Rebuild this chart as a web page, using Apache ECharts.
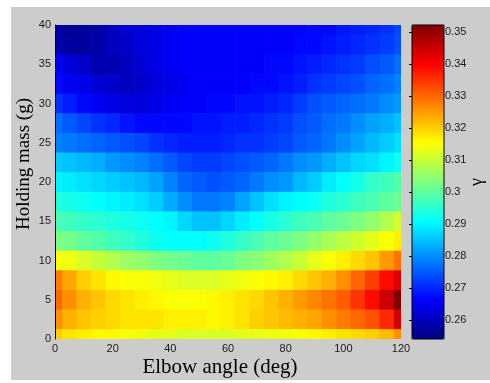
<!DOCTYPE html>
<html>
<head>
<meta charset="utf-8">
<script src="https://cdn.jsdelivr.net/npm/echarts@6/dist/echarts.min.js"></script>
<style>
  html, body { margin: 0; padding: 0; background: #fff; }
  #chart { width: 490px; height: 383px; }
</style>
</head>
<body>
<div id="chart"></div>
<script>
  // elbow angle (deg), one per column
  var angles = [0, 5, 10, 15, 20, 25, 30, 35, 40, 45, 50, 55, 60, 65, 70, 75, 80, 85, 90, 95, 100, 105, 110, 115, 120];
  // holding mass (g), one per row, top row first
  var masses = [40, 37.5, 35, 32.5, 30, 27.5, 25, 22.5, 20, 17.5, 15, 12.5, 10, 7.5, 5, 2.5, 0];
  // gamma, row by row (same order as masses)
  var gammaRows = [
    [0.257,0.256,0.257,0.258,0.260,0.262,0.263,0.264,0.265,0.266,0.266,0.266,0.266,0.266,0.266,0.266,0.266,0.266,0.267,0.267,0.268,0.269,0.270,0.271,0.273],
    [0.259,0.257,0.257,0.258,0.260,0.261,0.263,0.264,0.265,0.266,0.266,0.266,0.266,0.266,0.266,0.266,0.266,0.267,0.267,0.268,0.269,0.270,0.271,0.272,0.274],
    [0.265,0.263,0.261,0.259,0.259,0.260,0.262,0.264,0.265,0.266,0.266,0.266,0.266,0.266,0.266,0.267,0.267,0.268,0.269,0.270,0.271,0.272,0.274,0.275,0.277],
    [0.267,0.265,0.264,0.262,0.261,0.260,0.261,0.263,0.264,0.265,0.266,0.266,0.266,0.266,0.267,0.267,0.268,0.269,0.271,0.272,0.273,0.274,0.276,0.277,0.279],
    [0.271,0.269,0.267,0.265,0.264,0.263,0.263,0.264,0.265,0.266,0.266,0.267,0.267,0.268,0.268,0.269,0.270,0.272,0.274,0.275,0.276,0.277,0.278,0.280,0.281],
    [0.277,0.275,0.273,0.271,0.270,0.268,0.267,0.267,0.267,0.267,0.268,0.268,0.269,0.269,0.270,0.271,0.272,0.274,0.275,0.277,0.278,0.280,0.282,0.283,0.285],
    [0.279,0.278,0.277,0.276,0.275,0.274,0.273,0.271,0.270,0.269,0.269,0.269,0.270,0.271,0.271,0.272,0.273,0.275,0.276,0.278,0.280,0.282,0.284,0.286,0.288],
    [0.286,0.285,0.284,0.283,0.281,0.280,0.279,0.277,0.275,0.273,0.272,0.272,0.273,0.274,0.275,0.276,0.278,0.280,0.281,0.283,0.285,0.287,0.288,0.290,0.292],
    [0.290,0.289,0.288,0.287,0.286,0.285,0.284,0.282,0.279,0.276,0.275,0.274,0.275,0.276,0.278,0.280,0.281,0.284,0.286,0.289,0.291,0.293,0.296,0.297,0.299],
    [0.294,0.293,0.292,0.291,0.290,0.289,0.288,0.286,0.283,0.280,0.278,0.278,0.279,0.282,0.285,0.288,0.290,0.291,0.292,0.294,0.295,0.297,0.298,0.300,0.301],
    [0.298,0.297,0.296,0.295,0.294,0.293,0.292,0.291,0.290,0.287,0.285,0.285,0.287,0.289,0.291,0.293,0.295,0.297,0.298,0.300,0.301,0.303,0.305,0.308,0.311],
    [0.303,0.302,0.300,0.299,0.297,0.296,0.294,0.292,0.291,0.291,0.291,0.292,0.294,0.296,0.298,0.300,0.301,0.303,0.305,0.307,0.309,0.311,0.313,0.315,0.317],
    [0.315,0.314,0.312,0.310,0.308,0.306,0.305,0.303,0.302,0.301,0.300,0.300,0.301,0.303,0.304,0.306,0.308,0.310,0.313,0.315,0.317,0.319,0.321,0.325,0.329],
    [0.328,0.324,0.320,0.318,0.316,0.315,0.315,0.314,0.313,0.312,0.312,0.312,0.313,0.314,0.315,0.316,0.317,0.319,0.321,0.323,0.326,0.330,0.334,0.339,0.343],
    [0.330,0.326,0.323,0.321,0.319,0.318,0.317,0.316,0.315,0.315,0.315,0.316,0.317,0.318,0.319,0.321,0.323,0.325,0.327,0.329,0.331,0.335,0.339,0.345,0.352],
    [0.326,0.323,0.321,0.320,0.319,0.318,0.318,0.318,0.317,0.317,0.317,0.316,0.317,0.318,0.320,0.321,0.322,0.323,0.324,0.326,0.328,0.330,0.332,0.336,0.344],
    [0.320,0.318,0.317,0.316,0.316,0.315,0.314,0.313,0.313,0.312,0.312,0.312,0.312,0.313,0.313,0.314,0.314,0.315,0.316,0.317,0.318,0.319,0.320,0.322,0.326]
  ];
  // colorbar ticks and range
  var gammaTicks = [0.26, 0.27, 0.28, 0.29, 0.3, 0.31, 0.32, 0.33, 0.34, 0.35];
  var gammaMin = 0.254, gammaMax = 0.3523;

  // matlab jet
  var jet = ['#00007f', '#0000ff', '#007fff', '#00ffff', '#7fff7f', '#ffff00', '#ff7f00', '#ff0000', '#7f0000'];

  var cells = [];
  masses.forEach(function (m, i) {
    angles.forEach(function (a, j) {
      cells.push([a, m, gammaRows[i][j]]);
    });
  });
  var halfW = (angles[1] - angles[0]) / 2;
  var halfH = (masses[0] - masses[1]) / 2;

  function drawCell(params, api) {
    var a = api.value(0), m = api.value(1);
    var p0 = api.coord([a - halfW, m + halfH]);
    var p1 = api.coord([a + halfW, m - halfH]);
    return {
      type: 'rect',
      shape: { x: p0[0], y: p0[1], width: p1[0] - p0[0] + 0.6, height: p1[1] - p0[1] + 0.6 },
      style: { fill: api.visual('color') }
    };
  }

  var sans = '"Liberation Sans", Arial, sans-serif';
  var serif = '"Liberation Serif", "Times New Roman", serif';
  var tickLabel = { fontFamily: sans, fontSize: 11, color: '#1a1a1a' };

  var chart = echarts.init(document.getElementById('chart'));
  chart.setOption({
    backgroundColor: '#fff',
    animation: false,
    graphic: [
      { type: 'rect', z: -10, shape: { x: 11, y: 7, width: 479, height: 373 }, style: { fill: '#cccccc' } },
      { type: 'text', x: 220, y: 367, style: { text: 'Elbow angle (deg)', font: '21px ' + serif, fill: '#000', align: 'center', verticalAlign: 'middle' } },
      { type: 'text', x: 24, y: 164, rotation: Math.PI / 2, style: { text: 'Holding mass (g)', font: '19px ' + serif, fill: '#000', align: 'center', verticalAlign: 'middle' } },
      { type: 'text', x: 477, y: 182, rotation: Math.PI / 2, style: { text: 'γ', font: '18px ' + serif, fill: '#000', align: 'center', verticalAlign: 'middle' } }
    ],
    grid: [
      { left: 55, top: 25, width: 346, height: 314, show: false },
      { left: 412, top: 25, width: 32, height: 314, show: true, z: 5, borderColor: '#000', borderWidth: 1, backgroundColor: 'transparent' }
    ],
    xAxis: [
      {
        gridIndex: 0, type: 'value', min: 0, max: 120, interval: 20, z: 3,
        axisLine: { show: false }, axisTick: { show: false }, splitLine: { show: false },
        axisLabel: Object.assign({ margin: 4 }, tickLabel)
      },
      { gridIndex: 1, type: 'value', show: false }
    ],
    yAxis: [
      {
        gridIndex: 0, type: 'value', min: 0, max: 40, interval: 5, z: 3,
        axisLine: { show: true, lineStyle: { color: '#000', width: 1 } },
        axisTick: { show: false }, splitLine: { show: false },
        axisLabel: Object.assign({ margin: 4 }, tickLabel)
      },
      {
        gridIndex: 1, type: 'value', min: gammaMin, max: gammaMax, position: 'right', z: 6,
        axisLine: { show: false }, splitLine: { show: false },
        axisTick: { show: true, inside: true, length: 3, customValues: gammaTicks, lineStyle: { color: '#000' } },
        axisLabel: Object.assign({
          margin: 1, customValues: gammaTicks,
          formatter: function (v) { return String(Math.round(v * 100) / 100); }
        }, tickLabel)
      }
    ],
    visualMap: {
      type: 'continuous', seriesIndex: 0, dimension: 2,
      min: gammaMin, max: gammaMax, calculable: false, hoverLink: false,
      orient: 'vertical', left: 412, top: 25, itemWidth: 32, itemHeight: 314, padding: 0,
      inRange: { color: jet }
    },
    series: [{
      type: 'custom',
      xAxisIndex: 0, yAxisIndex: 0,
      clip: true, z: 1,
      renderItem: drawCell,
      data: cells
    }]
  });
</script>
</body>
</html>
